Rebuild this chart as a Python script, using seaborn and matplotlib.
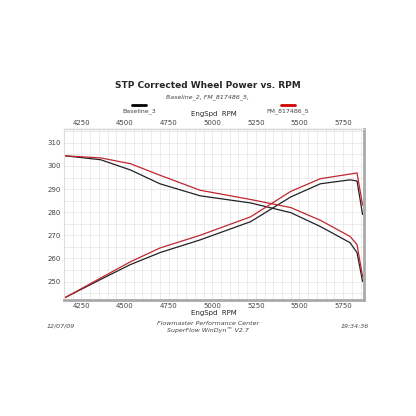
import numpy as np
import pandas as pd
import matplotlib.pyplot as plt
import seaborn as sns

rpm = [4155, 4360, 4530, 4700, 4930, 5220, 5450, 5620, 5790, 5830, 5862]
base_fall = [304.4, 302.7, 298.3, 292.3, 287.1, 284.0, 279.8, 273.8, 266.8, 262.5, 250.0]
fm_fall = [304.4, 303.5, 301.0, 296.0, 289.5, 285.5, 282.0, 276.5, 269.5, 266.0, 252.0]
base_rise = [243.0, 250.9, 257.3, 262.5, 268.0, 275.9, 286.6, 292.3, 294.0, 293.5, 279.0]
fm_rise = [243.0, 251.5, 258.5, 264.5, 270.0, 278.0, 289.0, 294.5, 296.5, 297.0, 283.0]
xticks = [4250, 4500, 4750, 5000, 5250, 5500, 5750]
yticks = [250, 260, 270, 280, 290, 300, 310]

sns.set_style("white")
plt.rcParams['font.family'] = ['DejaVu Sans']
fig = plt.figure(figsize=(4.16, 4.16), dpi=100)
ax = fig.add_axes([64/416, 1-300/416, 300/416, 171/416])

df = pd.DataFrame({'rpm': rpm * 4,
                   'val': base_fall + fm_fall + base_rise + fm_rise,
                   'run': ['Baseline_3'] * 11 + ['FM_817486_5'] * 11 + ['Baseline_3'] * 11 + ['FM_817486_5'] * 11,
                   'curve': ['a'] * 22 + ['b'] * 22})
for (run, curve), g in df.groupby(['run', 'curve']):
    sns.lineplot(data=g, x='rpm', y='val', ax=ax, color='#222222' if run == 'Baseline_3' else '#c0272d',
                 lw=0.9, legend=False)

ax.set_xlim(4153, 5870)
ax.set_ylim(242, 316)
ax.set_xticks(xticks)
ax.set_yticks(yticks)
ax.set_xticks(np.arange(4150, 5870, 50), minor=True)
ax.set_yticks(np.arange(245, 316, 5), minor=True)
ax.grid(True, which='both', color='#e4e4e4', lw=0.5)
ax.tick_params(labelsize=5, colors='#444444', length=0, labeltop=True, pad=2)
ax.set_xlabel('EngSpd  RPM', fontsize=5, labelpad=1)
ax.set_ylabel('')
sec = ax.secondary_xaxis('top')
sec.set_xticks([])
sec.set_xlabel('EngSpd  RPM', fontsize=5, labelpad=9)
for s in ax.spines.values():
    s.set_color('#dddddd')
ax.spines['bottom'].set_color('#aaaaaa')
ax.spines['bottom'].set_linewidth(2)
ax.spines['right'].set_color('#aaaaaa')
ax.spines['right'].set_linewidth(2)

fig.text(0.5, 1-88/416, 'STP Corrected Wheel Power vs. RPM', ha='center', fontsize=6.5, weight='bold')
fig.text(0.5, 1-98/416, 'Baseline_2, FM_817486_5,', ha='center', fontsize=4.5, style='italic', color='#444444')
fig.lines.append(plt.Line2D([132/416, 146/416], [1-105/416] * 2, color='black', lw=2, transform=fig.transFigure))
fig.lines.append(plt.Line2D([281/416, 295/416], [1-105/416] * 2, color='#d00000', lw=2, transform=fig.transFigure))
fig.text(139/416, 1-112/416, 'Baseline_3', ha='center', fontsize=4.5, color='#444444')
fig.text(288/416, 1-112/416, 'FM_817486_5', ha='center', fontsize=4.5, color='#444444')
fig.text(0.5, 1-325/416, 'Flowmaster Performance Center', ha='center', fontsize=4.5, style='italic', color='#444444')
fig.text(0.5, 1-332/416, 'SuperFlow WinDyn\u2122 V2.7', ha='center', fontsize=4.5, style='italic', color='#444444')
fig.text(47/416, 1-328/416, '12/07/09', ha='left', fontsize=4.5, style='italic', color='#444444')
fig.text(369/416, 1-328/416, '19:34:36', ha='right', fontsize=4.5, style='italic', color='#444444')

fig.savefig('out.png', dpi=100)
